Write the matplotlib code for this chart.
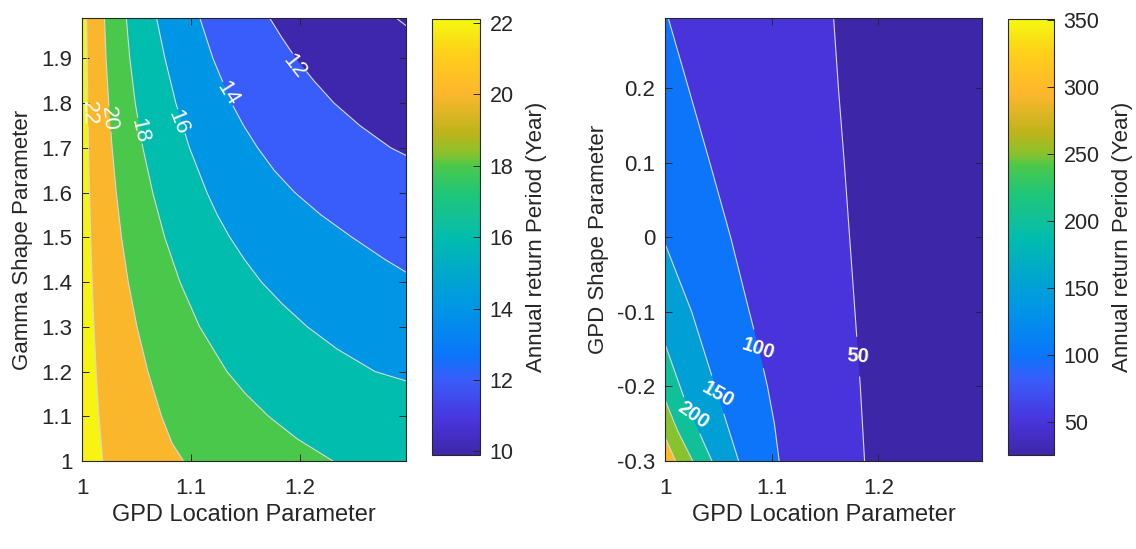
import numpy as np
import matplotlib
matplotlib.use('Agg')
import matplotlib.pyplot as plt
from matplotlib.colors import LinearSegmentedColormap, Normalize
from matplotlib.cm import ScalarMappable
from matplotlib.path import Path

plt.rcParams['font.family'] = ['Liberation Sans', 'DejaVu Sans']
plt.rcParams['axes.unicode_minus'] = False

# ── Extensões dos eixos ──────────────────────────────────────────────────────
X_LIM = (1.0, 1.297)
Y_LIM_GAMMA = (1.0, 1.99)
Y_LIM_GPD = (-0.3, 0.294)

# ── Painel esquerdo: curvas de nível (x lido em cada y) ──────────────────────
gamma_y_22 = [1.0, 1.1, 1.2, 1.3, 1.4, 1.5, 1.6, 1.7, 1.8, 1.9, 1.99]
gamma_x_22 = [1.019, 1.0155, 1.013, 1.011, 1.0093, 1.008, 1.0069, 1.006, 1.0053, 1.0047, 1.0043]
gamma_y_20 = [1.0, 1.04, 1.1, 1.2, 1.3, 1.4, 1.5, 1.6, 1.7, 1.8, 1.9, 1.99]
gamma_x_20 = [1.093, 1.0825, 1.0729, 1.0604, 1.0504, 1.0424, 1.0362, 1.0314, 1.0276, 1.0245, 1.022, 1.0206]
gamma_y_18 = [1.0, 1.05, 1.1, 1.15, 1.2, 1.3, 1.4, 1.5, 1.6, 1.7, 1.8, 1.9, 1.99]
gamma_x_18 = [1.23, 1.197, 1.171, 1.15, 1.1328, 1.1078, 1.0898, 1.0758, 1.0648, 1.0558, 1.0488, 1.0438, 1.0406]
gamma_y_16 = [1.179, 1.2, 1.25, 1.3, 1.35, 1.4, 1.45, 1.5, 1.55, 1.6, 1.7, 1.8, 1.9, 1.99]
gamma_x_16 = [1.297, 1.2685, 1.234, 1.2065, 1.184, 1.1645, 1.149, 1.1355, 1.124, 1.1145, 1.0985, 1.086, 1.076, 1.0683]
gamma_y_14 = [1.422, 1.45, 1.5, 1.55, 1.6, 1.65, 1.7, 1.75, 1.8, 1.9, 1.99]
gamma_x_14 = [1.297, 1.278, 1.2475, 1.219, 1.195, 1.176, 1.161, 1.148, 1.137, 1.12, 1.108]
gamma_y_12 = [1.683, 1.7, 1.75, 1.8, 1.85, 1.9, 1.945, 1.99]
gamma_x_12 = [1.297, 1.283, 1.2545, 1.231, 1.2125, 1.196, 1.1835, 1.172]
gamma_y_10 = [1.973, 1.99]
gamma_x_10 = [1.297, 1.288]

gamma_levels = [22, 20, 18, 16, 14, 12, 10]
gamma_lines = [(gamma_x_22, gamma_y_22), (gamma_x_20, gamma_y_20),
               (gamma_x_18, gamma_y_18), (gamma_x_16, gamma_y_16),
               (gamma_x_14, gamma_y_14), (gamma_x_12, gamma_y_12),
               (gamma_x_10, gamma_y_10)]
gamma_clim = (9.9, 22.1)
gamma_cticks = [10, 12, 14, 16, 18, 20, 22]
# rótulos: nível, x, y, rotação
gamma_lbl_level = [22, 20, 18, 16, 14, 12]
gamma_lbl_x = [1.006, 1.024, 1.053, 1.088, 1.133, 1.195]
gamma_lbl_y = [1.777, 1.764, 1.738, 1.757, 1.820, 1.882]
gamma_lbl_rot = [-88, -84, -77, -68, -58, -52]

# ── Painel direito ───────────────────────────────────────────────────────────
gpd_y_300 = [-0.3, -0.268]
gpd_x_300 = [1.010, 1.0]
gpd_y_250 = [-0.3, -0.26, -0.218]
gpd_x_250 = [1.026, 1.012, 1.0]
gpd_y_200 = [-0.3, -0.22, -0.143]
gpd_x_200 = [1.044, 1.019, 1.0]
gpd_y_150 = [-0.3, -0.2, -0.1, -0.0085]
gpd_x_150 = [1.069, 1.047, 1.025, 1.0]
gpd_y_100 = [-0.3, -0.25, -0.2, -0.15, -0.1, 0.0, 0.1, 0.2, 0.294]
gpd_x_100 = [1.107, 1.1025, 1.096, 1.088, 1.079, 1.0615, 1.042, 1.022, 1.003]
gpd_y_50 = [-0.3, -0.2, -0.1, 0.0, 0.1, 0.2, 0.294]
gpd_x_50 = [1.187, 1.183, 1.178, 1.173, 1.168, 1.1625, 1.158]

gpd_levels = [300, 250, 200, 150, 100, 50]
gpd_lines = [(gpd_x_300, gpd_y_300), (gpd_x_250, gpd_y_250),
             (gpd_x_200, gpd_y_200), (gpd_x_150, gpd_y_150),
             (gpd_x_100, gpd_y_100), (gpd_x_50, gpd_y_50)]
gpd_clim = (25, 351)
gpd_cticks = [50, 100, 150, 200, 250, 300, 350]
gpd_lbl_level = [200, 150, 100, 50]
gpd_lbl_x = [1.0265, 1.0495, 1.087, 1.181]
gpd_lbl_y = [-0.238, -0.211, -0.150, -0.160]
gpd_lbl_rot = [-35, -30, -18, -4]

# ── Paleta tipo "parula" ────────────────────────────────────────────────────
PARULA = LinearSegmentedColormap.from_list('parula_like', [
    (0.000, '#3e26a8'), (0.077, '#4834dc'), (0.170, '#3a5cfa'),
    (0.230, '#0a76fa'), (0.336, '#0096e6'), (0.383, '#00a0d7'),
    (0.500, '#00bead'), (0.536, '#10c09a'), (0.600, '#1ec678'),
    (0.664, '#4bc84b'), (0.690, '#87c32d'), (0.740, '#bdb41a'),
    (0.830, '#fdb72d'), (0.920, '#ffce1a'), (1.000, '#f5f80f')], N=256)

DARK = '#262626'
LINE = '#d8d8d8'
FIG_W, FIG_H = 1136, 549


def gap_path(ax, ylim, lbl_x, lbl_y, r_px):
    """Retângulo do eixo com furos circulares sob os rótulos (quebra da linha)."""
    pos = ax.get_position()
    rx = r_px / (pos.width * FIG_W)
    ry = r_px / (pos.height * FIG_H)
    verts = [(0, 0), (1, 0), (1, 1), (0, 1), (0, 0)]
    codes = [Path.MOVETO, Path.LINETO, Path.LINETO, Path.LINETO, Path.CLOSEPOLY]
    t = np.linspace(2 * np.pi, 0, 37)
    for x, y in zip(lbl_x, lbl_y):
        cx = (x - X_LIM[0]) / (X_LIM[1] - X_LIM[0])
        cy = (y - ylim[0]) / (ylim[1] - ylim[0])
        verts += list(zip(cx + rx * np.cos(t), cy + ry * np.sin(t)))
        codes += [Path.MOVETO] + [Path.LINETO] * 35 + [Path.CLOSEPOLY]
    return Path(verts, codes)


def draw_panel(ax, cax, levels, lines, clim, ylim, cticks,
               lbl_level, lbl_x, lbl_y, lbl_rot, bold, ylabel, yticks):
    norm = Normalize(*clim)
    xmin, xmax = X_LIM
    ymin, ymax = ylim
    ax.set_facecolor(PARULA(norm(levels[0])))
    for i, (lv, (xs, ys)) in enumerate(zip(levels, lines)):
        lower = levels[i + 1] if i + 1 < len(levels) else clim[0]
        px = list(xs) + [xmin, xmax, xmax]
        py = list(ys) + [ymax, ymax, ymin]
        ax.fill(px, py, color=PARULA(norm(lower)), lw=0, zorder=1)

    clip = gap_path(ax, ylim, lbl_x, lbl_y, 20 if bold else 13)
    for xs, ys in lines:
        ln, = ax.plot(xs, ys, color=LINE, lw=0.8, zorder=2)
        ln.set_clip_path(clip, ax.transAxes)
    for lv, x, y, r in zip(lbl_level, lbl_x, lbl_y, lbl_rot):
        ax.text(x, y, str(lv), color='white', fontsize=14.5 if bold else 16,
                rotation=r, rotation_mode='anchor', ha='center', va='center',
                fontweight='bold' if bold else 'normal', zorder=3)

    ax.set_xlim(X_LIM)
    ax.set_ylim(ylim)
    ax.set_xticks([1.0, 1.1, 1.2])
    ax.set_xticklabels(['1', '1.1', '1.2'])
    ax.set_yticks(yticks)
    ax.set_yticklabels([f'{v:g}' for v in yticks])
    ax.tick_params(direction='in', top=True, right=True, length=5,
                   width=0.7, color=DARK, labelcolor=DARK, labelsize=16, pad=7)
    ax.tick_params(axis='x', pad=12)
    for sp in ax.spines.values():
        sp.set_color(DARK)
        sp.set_linewidth(0.8)
        sp.set_zorder(5)
    ax.set_xlabel('GPD Location Parameter', fontsize=17, color=DARK, labelpad=4)
    ax.set_ylabel(ylabel, fontsize=16, color=DARK, labelpad=6)

    sm = ScalarMappable(norm=norm, cmap=PARULA)
    cb = plt.colorbar(sm, cax=cax)
    cb.set_ticks(cticks)
    cb.ax.tick_params(direction='in', length=5, width=0.7, color=DARK,
                      labelcolor=DARK, labelsize=15.5, pad=7)
    cb.outline.set_edgecolor(DARK)
    cb.outline.set_linewidth(0.8)
    cb.set_label('Annual return Period (Year)', fontsize=16, color=DARK,
                 labelpad=9)


fig = plt.figure(figsize=(FIG_W / 100, FIG_H / 100), dpi=100)
ax1 = fig.add_axes([0.0722, 0.1603, 0.2852, 0.8069])
cax1 = fig.add_axes([0.3803, 0.1712, 0.04225, 0.794])
ax2 = fig.add_axes([0.5854, 0.1603, 0.2790, 0.8069])
cax2 = fig.add_axes([0.8873, 0.1712, 0.0405, 0.794])

draw_panel(ax1, cax1, gamma_levels, gamma_lines, gamma_clim, Y_LIM_GAMMA,
           gamma_cticks, gamma_lbl_level, gamma_lbl_x, gamma_lbl_y,
           gamma_lbl_rot, False, 'Gamma Shape Parameter',
           [1.0, 1.1, 1.2, 1.3, 1.4, 1.5, 1.6, 1.7, 1.8, 1.9])
draw_panel(ax2, cax2, gpd_levels, gpd_lines, gpd_clim, Y_LIM_GPD,
           gpd_cticks, gpd_lbl_level, gpd_lbl_x, gpd_lbl_y,
           gpd_lbl_rot, True, 'GPD Shape Parameter',
           [-0.3, -0.2, -0.1, 0.0, 0.1, 0.2])

fig.savefig('out.png', dpi=100, facecolor='white')
